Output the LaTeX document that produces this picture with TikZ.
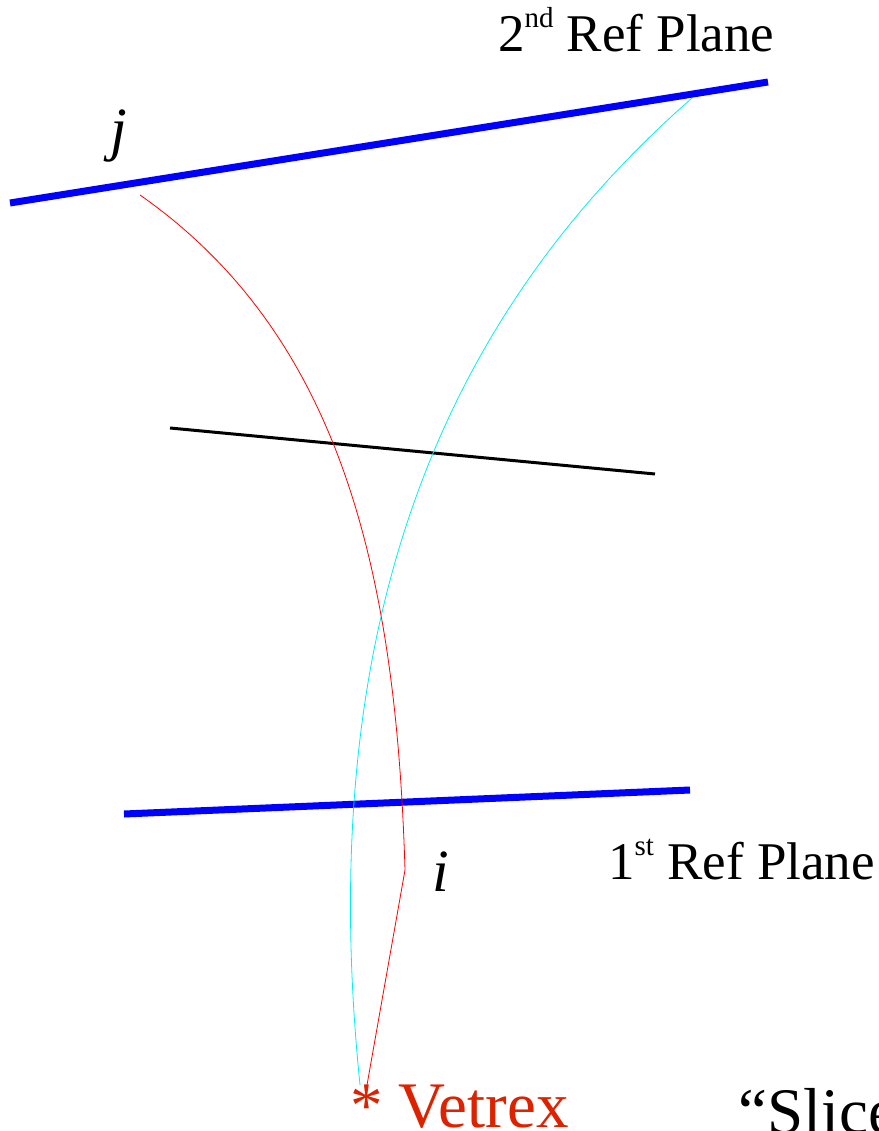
\documentclass[tikz,border=0pt]{standalone}
\usepackage{fontspec}
\setmainfont{Liberation Serif}
\usetikzlibrary{positioning, calc}
\definecolor{vtxred}{RGB}{221,34,0}
\definecolor{trkcyan}{RGB}{0,240,240}
\newcommand{\sups}[1]{\raisebox{24pt}{\fontsize{29}{30}\selectfont #1}}

\begin{document}
\begin{tikzpicture}[x=1pt, y=-1pt,
    plane/.style={blue, line width=7pt},
    slab/.style={black, line width=3pt},
    lbl/.style={inner sep=0pt, anchor=base west, font=\fontsize{53}{56}\selectfont},
    idx/.style={inner sep=0pt, anchor=base west, font=\fontsize{60}{64}\selectfont\itshape},
    track/.style={line width=0.8pt}]
    \useasboundingbox (0,0) rectangle (878,1131);
    % reference planes and the slice
    \draw[plane] (10,203) -- (768,82);
    \draw[slab] (170,428) -- (655,474);
    \draw[plane] (124,814) -- (690,790);
    % hits and vertex
    \coordinate (vtx) at (360,1085);
    \coordinate (hj) at (140,195);
    \coordinate (hk) at (692,98);
    \coordinate (kink) at (405,870);
    % tracks
    \draw[track, red] (hj) .. controls (340,335) and (396,570) .. (kink) -- (367,1085);
    \draw[track, trkcyan] (hk) .. controls (462,300) and (310,595) .. (vtx);
    % labels
    \node[lbl] (ref2) at (498,52) {2\sups{nd} Ref Plane};
    \node[lbl] (ref1) at (608,879) {1\sups{st} Ref Plane};
    \node[idx] (hitj) at (110,150) {j};
    \node[idx] (hiti) at (432,891) {i};
    \node[inner sep=0pt, anchor=base west, text=vtxred, font=\fontsize{65}{68}\selectfont] (vlab) at (350,1127) {* Vetrex};
    \node[inner sep=0pt, anchor=base west, font=\fontsize{65}{68}\selectfont] (slice) at (738,1133) {“Slice};
\end{tikzpicture}
\end{document}
